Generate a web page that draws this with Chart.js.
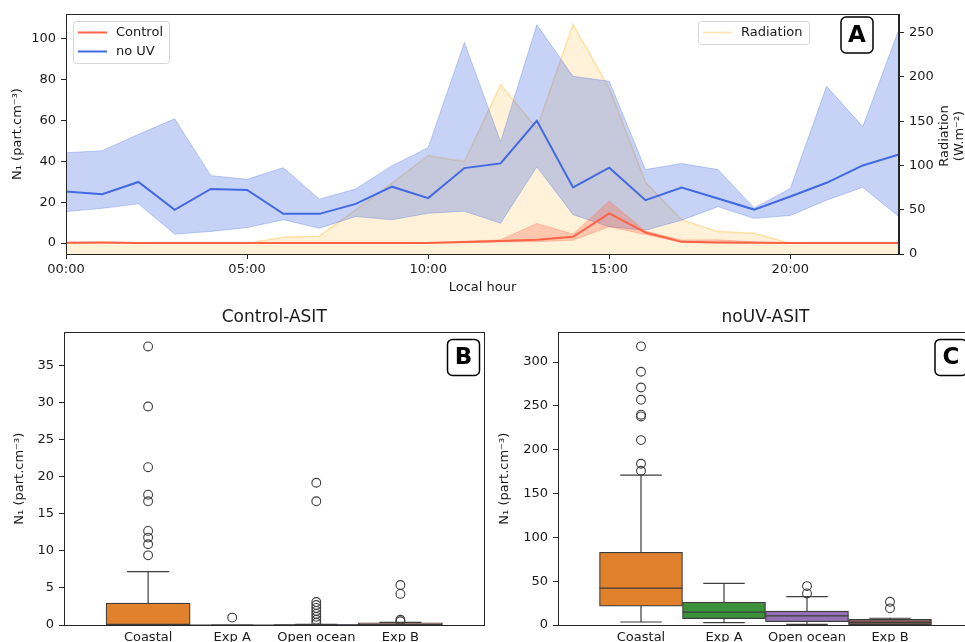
<!DOCTYPE html>
<html>
<head>
<meta charset="utf-8">
<script src="https://cdn.jsdelivr.net/npm/chart.js@4.4.1/dist/chart.umd.min.js"></script>
<style>
  html, body { margin: 0; padding: 0; background: #fff; overflow: hidden; width: 965px; height: 642px; }
  .panel { position: absolute; }
</style>
</head>
<body>
<div class="panel" style="left:0;top:0"><canvas id="chartA" width="965" height="300"></canvas></div>
<div class="panel" style="left:0;top:300px"><canvas id="chartB" width="490" height="360"></canvas></div>
<div class="panel" style="left:490px;top:300px"><canvas id="chartC" width="490" height="360"></canvas></div>
<script>
// panel A - hourly means with ranges
const hours = [0, 1, 2, 3, 4, 5, 6, 7, 8, 9, 10, 11, 12, 13, 14, 15, 16, 17, 18, 19, 20, 21, 22, 23];
const noUvMean = [25.2, 23.9, 29.9, 16.3, 26.5, 26.0, 14.3, 14.3, 19.2, 27.6, 22.0, 36.7, 39.0, 59.8, 27.2, 36.9, 21.0, 27.2, 21.8, 16.4, 22.8, 29.5, 38.0, 43.4];
const noUvHigh = [44.2, 45.2, 53.2, 60.8, 33.0, 31.2, 36.9, 21.5, 26.5, 37.9, 46.7, 98.2, 49.6, 106.8, 81.6, 79.2, 36.0, 38.9, 36.0, 17.2, 26.7, 76.7, 57.0, 104.6];
const noUvLow = [15.4, 17.0, 19.2, 4.4, 5.7, 7.6, 11.4, 7.3, 13.0, 11.4, 14.6, 15.6, 9.7, 37.3, 13.9, 8.0, 6.3, 11.2, 17.8, 12.1, 13.5, 21.0, 27.3, 12.9];
const ctrlMean = [0.2, 0.3, 0.1, 0.1, 0.1, 0.1, 0.1, 0.1, 0.1, 0.1, 0.1, 0.5, 1.0, 1.6, 3.1, 14.5, 5.2, 0.6, 0.3, 0.2, 0.1, 0.1, 0.1, 0.1];
const ctrlHigh = [0.3, 0.5, 0.3, 0.2, 0.2, 0.2, 0.2, 0.2, 0.2, 0.2, 0.3, 0.9, 1.6, 9.6, 4.4, 20.6, 5.8, 1.5, 1.6, 0.6, 0.2, 0.2, 0.2, 0.2];
const ctrlLow = [0.1, 0.1, 0, 0, 0, 0, 0, 0, 0, 0, 0, 0.2, 0.5, 0.7, 1.4, 8.0, 4.2, 0.3, 0.1, 0, 0, 0, 0, 0];
const radiation = [12, 12, 12, 12, 12, 12, 18.9, 20.4, 49.8, 80, 111, 104.4, 191, 142, 259, 187, 81, 38.5, 25.3, 23.4, 12, 12, 12, 12];

// panels B and C - box plots
const boxCats = ['Coastal', 'Exp A', 'Open ocean', 'Exp B'];
const boxColors = ['#e1812c', '#3a923a', '#9372b2', '#845b53'];

const ctrlQ1 = [0, 0, 0, 0];
const ctrlMed = [0.05, 0, 0.02, 0.05];
const ctrlQ3 = [2.95, 0, 0.08, 0.3];
const ctrlWhiskLo = [0, 0, 0, 0];
const ctrlWhiskHi = [7.2, 0, 0.1, 0.35];
const ctrlOutliers = [
  [37.6, 29.5, 21.3, 17.6, 16.7, 12.7, 11.8, 10.9, 9.4],
  [1.0],
  [19.2, 16.7, 3.1, 2.7, 2.3, 1.9, 1.5, 1.1, 0.7, 0.3],
  [5.4, 4.2, 0.7, 0.5]
];

const nouvQ1 = [21.6, 7.3, 3.8, 0.5];
const nouvMed = [42.1, 14.6, 10.5, 3.0];
const nouvQ3 = [83.0, 25.9, 15.8, 6.5];
const nouvWhiskLo = [3.4, 2.7, 0.7, 0.2];
const nouvWhiskHi = [171, 47.4, 32.4, 7.7];
const nouvOutliers = [
  [318, 289, 271, 257, 240, 238, 211, 184, 176],
  [],
  [44.4, 36],
  [26.5, 19]
];

const axisColor = '#262626';
const textColor = '#1a1a1a';
const edgeColor = '#3d3d3d';
Chart.defaults.font.family = "'DejaVu Sans', sans-serif";
Chart.defaults.font.size = 13;
Chart.defaults.color = textColor;
Chart.defaults.animation = false;

function pts(ys) {
  return hours.map((h, i) => ({ x: h, y: ys[i] }));
}

function drawFrame(chart) {
  const a = chart.chartArea, ctx = chart.ctx;
  ctx.save();
  ctx.strokeStyle = axisColor;
  ctx.lineWidth = 1;
  ctx.strokeRect(Math.round(a.left) + 0.5, Math.round(a.top) + 0.5, Math.round(a.right - a.left) - 1, Math.round(a.bottom - a.top));
  ctx.restore();
}

function drawLetter(chart, letter, cx, cy) {
  const ctx = chart.ctx;
  ctx.save();
  ctx.beginPath();
  ctx.roundRect(cx - 16, cy - 18, 32, 36, 5);
  ctx.fillStyle = '#fff';
  ctx.fill();
  ctx.lineWidth = 1.5;
  ctx.strokeStyle = '#000';
  ctx.stroke();
  ctx.fillStyle = '#000';
  ctx.font = "bold 23px 'DejaVu Sans'";
  ctx.textAlign = 'center';
  ctx.textBaseline = 'middle';
  ctx.fillText(letter, cx, cy + 1);
  ctx.restore();
}

function drawLegendBox(ctx, x, y, w, h, items) {
  ctx.save();
  ctx.beginPath();
  ctx.roundRect(x + 0.5, y + 0.5, w, h, 3);
  ctx.fillStyle = 'rgba(255,255,255,0.8)';
  ctx.fill();
  ctx.strokeStyle = '#d6d6d6';
  ctx.lineWidth = 1;
  ctx.stroke();
  ctx.font = "13px 'DejaVu Sans'";
  ctx.textBaseline = 'middle';
  items.forEach((it, k) => {
    const cy = y + 11.5 + k * 19;
    ctx.strokeStyle = it.color;
    ctx.lineWidth = it.width;
    ctx.beginPath();
    ctx.moveTo(x + 5, cy);
    ctx.lineTo(x + 34, cy);
    ctx.stroke();
    ctx.fillStyle = textColor;
    ctx.fillText(it.label, x + 43, cy);
  });
  ctx.restore();
}

const panelAPlugin = {
  id: 'panelA',
  afterDraw(chart) {
    const a = chart.chartArea, ctx = chart.ctx, ds = chart.data.datasets;
    drawFrame(chart);
    drawLegendBox(ctx, a.left + 7, a.top + 7, 96, 42, [
      { label: ds[3].label, color: ds[3].borderColor, width: 2 },
      { label: ds[0].label, color: ds[0].borderColor, width: 2 }
    ]);
    drawLegendBox(ctx, a.right - 201, a.top + 7, 111, 23, [
      { label: ds[6].label, color: ds[6].borderColor, width: 1.5 }
    ]);
    drawLetter(chart, 'A', a.right - 42, a.top + 21);
    // right axis title, two lines rotated
    ctx.save();
    ctx.fillStyle = textColor;
    ctx.font = "13px 'DejaVu Sans'";
    ctx.textAlign = 'center';
    ctx.textBaseline = 'middle';
    const cy = (a.top + a.bottom) / 2 + 2;
    [['Radiation', 46], ['(W.m\u207B\u00B2)', 61]].forEach(([t, dx]) => {
      ctx.save();
      ctx.translate(a.right + dx, cy);
      ctx.rotate(-Math.PI / 2);
      ctx.fillText(t, 0, 0);
      ctx.restore();
    });
    ctx.restore();
  }
};

new Chart(document.getElementById('chartA'), {
  type: 'line',
  data: {
    datasets: [
      { label: 'no UV', data: pts(noUvMean), borderColor: '#4169e1', borderWidth: 2, pointRadius: 0, fill: false, yAxisID: 'y', order: 1 },
      { label: 'no UV high', data: pts(noUvHigh), borderColor: 'rgba(65,105,225,0.3)', borderWidth: 1, backgroundColor: 'rgba(65,105,225,0.3)', pointRadius: 0, fill: '+1', yAxisID: 'y', order: 3 },
      { label: 'no UV low', data: pts(noUvLow), borderColor: 'rgba(65,105,225,0.3)', borderWidth: 1, pointRadius: 0, fill: false, yAxisID: 'y', order: 3 },
      { label: 'Control', data: pts(ctrlMean), borderColor: '#ff6347', borderWidth: 2, pointRadius: 0, fill: false, yAxisID: 'y', order: 0 },
      { label: 'Control high', data: pts(ctrlHigh), borderColor: 'rgba(255,99,71,0.3)', borderWidth: 1, backgroundColor: 'rgba(255,99,71,0.3)', pointRadius: 0, fill: '+1', yAxisID: 'y', order: 2 },
      { label: 'Control low', data: pts(ctrlLow), borderColor: 'rgba(255,99,71,0.3)', borderWidth: 1, pointRadius: 0, fill: false, yAxisID: 'y', order: 2 },
      { label: 'Radiation', data: pts(radiation), borderColor: 'rgba(255,165,0,0.3)', borderWidth: 1.5, backgroundColor: 'rgba(255,165,0,0.15)', pointRadius: 0, fill: 'origin', yAxisID: 'y2', order: 5 }
    ]
  },
  options: {
    responsive: false,
    layout: { padding: { top: 14, left: 0, right: 0, bottom: 0 } },
    plugins: { legend: { display: false }, tooltip: { enabled: false } },
    scales: {
      x: {
        type: 'linear', min: 0, max: 23,
        ticks: { stepSize: 5, includeBounds: false, autoSkip: false, maxRotation: 0, padding: 3,
          callback: v => String(v).padStart(2, '0') + ':00' },
        grid: { drawOnChartArea: false, tickLength: 5, color: axisColor },
        border: { color: axisColor },
        title: { display: true, text: 'Local hour', padding: { top: 0, bottom: 5 } },
        afterFit: s => { s.height = 46; }
      },
      y: {
        position: 'left', min: -5.34, max: 112.1,
        ticks: { stepSize: 20, includeBounds: false, padding: 5 },
        grid: { drawOnChartArea: false, tickLength: 5, color: axisColor },
        border: { color: axisColor },
        title: { display: true, text: 'N\u2081 (part.cm\u207B\u00B3)', padding: { top: 10 } },
        afterFit: s => { s.width = 66; }
      },
      y2: {
        position: 'right', min: 0, max: 271,
        ticks: { stepSize: 50, includeBounds: false, padding: 5 },
        grid: { drawOnChartArea: false, tickLength: 5, color: axisColor },
        border: { color: axisColor },
        afterFit: s => { s.width = 66; }
      }
    }
  },
  plugins: [panelAPlugin]
});

function boxChart(id, title, q1, med, q3, lo, hi, outliers, yMax, yStep, leftW, rightPad, titlePad, letterDx) {
  const bars = boxCats.map((c, i) => ({ x: i, y: [q1[i], q3[i]] }));
  const whiskers = [];
  const medians = [];
  const fliers = [];
  boxCats.forEach((c, i) => {
    whiskers.push({ x: i, y: q3[i] }, { x: i, y: hi[i] }, { x: i, y: null });
    whiskers.push({ x: i - 0.25, y: hi[i] }, { x: i + 0.25, y: hi[i] }, { x: i, y: null });
    whiskers.push({ x: i, y: q1[i] }, { x: i, y: lo[i] }, { x: i, y: null });
    whiskers.push({ x: i - 0.25, y: lo[i] }, { x: i + 0.25, y: lo[i] }, { x: i, y: null });
    medians.push({ x: i - 0.5, y: med[i] }, { x: i + 0.5, y: med[i] }, { x: i, y: null });
    outliers[i].forEach(v => fliers.push({ x: i, y: v }));
  });
  return new Chart(document.getElementById(id), {
    type: 'bar',
    data: {
      datasets: [
        { type: 'scatter', data: fliers, pointRadius: 4.4, pointBorderWidth: 1.1, pointBorderColor: edgeColor, pointBackgroundColor: 'rgba(0,0,0,0)', order: 0 },
        { type: 'line', data: medians, borderColor: edgeColor, borderWidth: 1.2, pointRadius: 0, spanGaps: false, order: 1 },
        { type: 'line', data: whiskers, borderColor: edgeColor, borderWidth: 1.2, pointRadius: 0, spanGaps: false, order: 2 },
        { type: 'bar', data: bars, backgroundColor: boxColors, borderColor: edgeColor, borderWidth: 1.2, borderSkipped: false, barPercentage: 1, categoryPercentage: 1, order: 3 }
      ]
    },
    options: {
      responsive: false,
      layout: { padding: { top: 0, left: 0, right: rightPad, bottom: 0 } },
      plugins: {
        legend: { display: false },
        tooltip: { enabled: false },
        title: { display: true, text: title, fullSize: false, color: textColor, font: { size: 17, weight: 'normal' }, padding: { top: 7, bottom: 5 } }
      },
      scales: {
        x: {
          type: 'linear', min: -1, max: 4, offset: false,
          afterBuildTicks: s => { s.ticks = boxCats.map((c, i) => ({ value: i })); },
          ticks: { autoSkip: false, maxRotation: 0, padding: 5, callback: v => boxCats[v] },
          grid: { display: false, drawTicks: false },
          border: { color: axisColor },
          afterFit: s => { s.height = 35; }
        },
        y: {
          min: 0, max: yMax,
          ticks: { stepSize: yStep, includeBounds: false, padding: 5 },
          grid: { drawOnChartArea: false, tickLength: 5, color: axisColor },
          border: { color: axisColor },
          title: { display: true, text: 'N\u2081 (part.cm\u207B\u00B3)', padding: { top: titlePad } },
          afterFit: s => { s.width = leftW; }
        }
      }
    },
    plugins: [{
      id: 'frame_' + id,
      afterDraw(chart) {
        const a = chart.chartArea;
        drawFrame(chart);
        drawLetter(chart, title === 'Control-ASIT' ? 'B' : 'C', a.right - letterDx, a.top + 25);
      }
    }]
  });
}

boxChart('chartB', 'Control-ASIT', ctrlQ1, ctrlMed, ctrlQ3, ctrlWhiskLo, ctrlWhiskHi, ctrlOutliers, 39.5, 5, 64, 4, 12, 21);
boxChart('chartC', 'noUV-ASIT', nouvQ1, nouvMed, nouvQ3, nouvWhiskLo, nouvWhiskHi, nouvOutliers, 333.9, 50, 68, 7, 7, 22);
</script>
</body>
</html>
